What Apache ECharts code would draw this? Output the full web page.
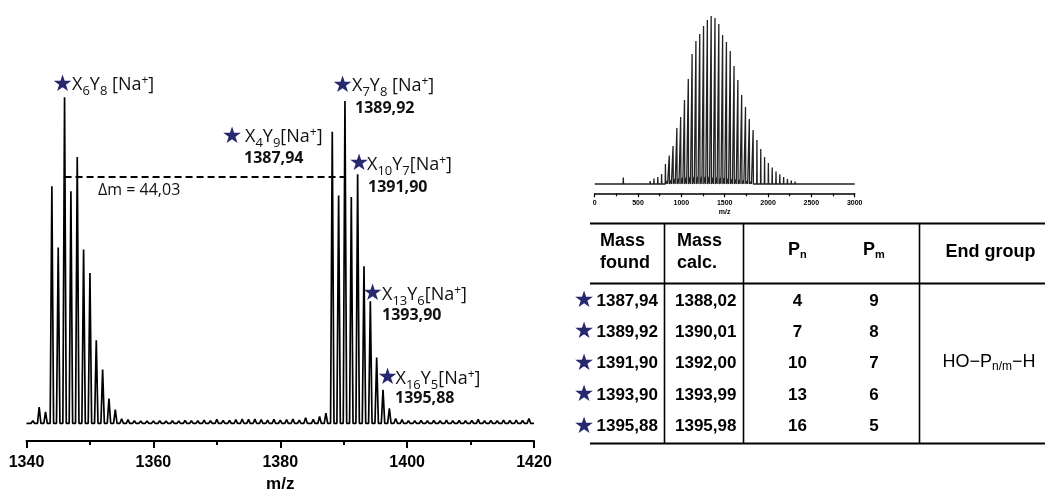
<!DOCTYPE html>
<html>
<head>
<meta charset="utf-8">
<style>
  html, body { margin: 0; padding: 0; background: #fff; }
  #chart { width: 1045px; height: 489px; }
</style>
<script src="https://cdn.jsdelivr.net/npm/echarts@6/dist/echarts.min.js"></script>
</head>
<body>
<div id="chart"></div>
<script>
// 主谱图：m/z 与相对强度 (%)
var mainTicks = [1340, 1360, 1380, 1400, 1420];
var clusterA_mz  = [1342, 1343, 1344, 1345, 1346, 1347, 1348, 1349, 1350, 1351, 1352, 1353, 1354, 1355];
var clusterA_int = [5.0, 3.5, 72.7, 53.9, 100, 71.2, 81.7, 53.3, 46.1, 25.5, 16.5, 7.6, 4.2, 1.4];
var clusterB_mz  = [1386.2, 1387.2, 1388.2, 1389.2, 1390.2, 1391.2, 1392.2, 1393.2, 1394.2, 1395.2, 1396.2, 1397.2, 1398.2];
var clusterB_int = [2.1, 3.1, 89.4, 69.9, 98.9, 69.4, 76.4, 48.2, 37.4, 20.2, 10.3, 4.6, 1.5];
var noise_mz  = [1341, 1356, 1357, 1358, 1359, 1360, 1361, 1362, 1363, 1364, 1365, 1366, 1367, 1368, 1369, 1370,
                 1371, 1372, 1373, 1374, 1375, 1376, 1377, 1378, 1379, 1380, 1381, 1382, 1383, 1384, 1385.2,
                 1399.2, 1400.2, 1401.2, 1402.2, 1403.2, 1404.2, 1405.2, 1406.2, 1407.2, 1408.2, 1409.2, 1410.2,
                 1411.2, 1412.2, 1413.2, 1414.2, 1415.2, 1416.2, 1417.2, 1418.2, 1419.2];
var noise_int = [0.8, 1.1, 0.8, 0.7, 0.7, 0.7, 0.8, 0.7, 0.8, 0.7, 0.9, 0.8, 0.8, 1.0, 0.8, 1.2,
                 0.9, 0.9, 1.1, 1.3, 1.2, 1.3, 1.1, 1.0, 1.2, 1.0, 1.1, 1.3, 1.0, 1.7, 1.2,
                 1.1, 0.8, 0.8, 0.9, 0.8, 0.9, 0.8, 1.0, 0.8, 0.9, 0.8, 0.9,
                 1.2, 0.8, 0.9, 0.8, 1.0, 0.9, 1.0, 0.9, 1.5];
// Δm 虚线：两端 m/z 和高度
var delta_mz = [1346, 1390.2];
var delta_int = 75.6;

// 插图：全谱 0-3000
var insetTicks = [0, 500, 1000, 1500, 2000, 2500, 3000];
var inset_mz  = [508, 552, 596, 640, 684, 728, 772, 816, 860, 904, 948, 992, 1036, 1080, 1124, 1168, 1212, 1256,
                 1300, 1344, 1388, 1432, 1476, 1520, 1564, 1608, 1652, 1696, 1740, 1784, 1828, 1872, 1916, 1960,
                 2004, 2048, 2092, 2136, 2180, 2224, 2268, 2312, 2356, 2400, 2444, 2488, 2532, 2576, 2620, 2664,
                 2708, 2752, 2796];
var inset_int = [0.8, 1, 1.5, 3, 5.5, 7, 10, 20, 28.5, 38, 56, 67, 84, 105, 130, 143, 150, 158,
                 164, 168, 166, 160, 149, 142, 133, 118, 104, 89, 77, 65, 54, 44, 35, 27,
                 21, 16.5, 12.5, 9.7, 7, 5, 3.5, 2.5, 2, 1.5, 1.2, 1, 1, 0.8, 0.8, 0.6,
                 0.5, 0.5, 0.4];
var insetMinor_mz  = [330, 794, 838, 882, 926, 970, 1014, 1058, 1102, 1146, 1190, 1234, 1278, 1322, 1366, 1410, 1454,
                      1498, 1542, 1586, 1630, 1674, 1718, 1762, 1806, 1850, 1894, 1938, 1982, 2026, 2070,
                      2114, 2158, 2202, 2246, 2290];
var insetMinor_int = [6.5, 2, 3, 4, 5, 5.5, 6, 6.5, 7, 7, 7, 7, 7, 7, 6.5, 6.5, 6,
                      6, 5.5, 5, 4.5, 4, 3.5, 3, 2.5, 2, 1.8, 1.5, 1.2, 1, 0.8,
                      0.7, 0.6, 0.5, 0.4, 0.3];

// 表格
var massFound = ['1387,94', '1389,92', '1391,90', '1393,90', '1395,88'];
var massCalc  = ['1388,02', '1390,01', '1392,00', '1393,99', '1395,98'];
var pn = [4, 7, 10, 13, 16];
var pm = [9, 8, 7, 6, 5];

// 峰标注
var peakLabels = [
  'X{sub|6}Y{sub|8} [Na{sup|+}]',
  'X{sub|4}Y{sub|9}[Na{sup|+}]',
  'X{sub|7}Y{sub|8} [Na{sup|+}]',
  'X{sub|10}Y{sub|7}[Na{sup|+}]',
  'X{sub|13}Y{sub|6}[Na{sup|+}]',
  'X{sub|16}Y{sub|5}[Na{sup|+}]'
];
var peakMasses = ['', '1387,94', '1389,92', '1391,90', '1393,90', '1395,88'];

var STAR = '#27286e';
var SANS = 'Liberation Sans, Arial, sans-serif';
var LABEL = 'Open Sans, sans-serif';

// 把峰列表变成尖峰折线点
function spikes(xs, ys, half) {
  var pts = [];
  xs.forEach(function (x, i) {
    pts.push([x, ys[i], half]);
  });
  pts.sort(function (a, b) { return a[0] - b[0]; });
  var out = [];
  pts.forEach(function (p) {
    out.push([p[0] - p[2], 0], [p[0], p[1]], [p[0] + p[2], 0]);
  });
  return out;
}

var mainData = [[mainTicks[0], 0]]
  .concat(spikes(clusterA_mz.concat(clusterB_mz, noise_mz), clusterA_int.concat(clusterB_int, noise_int), 0.27))
  .concat([[mainTicks[mainTicks.length - 1], 0]]);

var insetData = [[insetTicks[0], 0]]
  .concat(spikes(inset_mz.concat(insetMinor_mz), inset_int.concat(insetMinor_int), 3))
  .concat([[insetTicks[insetTicks.length - 1], 0]]);

var chart = echarts.init(document.getElementById('chart'));

// 标注文字
var rich = {
  sub: { fontSize: 13, fontFamily: LABEL, fill: '#111', padding: [13, 0, 0, 0] },
  sup: { fontSize: 12, fontFamily: LABEL, fill: '#111', padding: [0, 0, 8, 0] }
};
var labelPos = [
  { star: [62.5, 85], text: [72, 85], num: null },
  { star: [232, 137], text: [245, 136.5], num: [244, 158] },
  { star: [342.5, 86], text: [352, 86], num: [355, 108] },
  { star: [359, 164.5], text: [367, 165], num: [368, 187] },
  { star: [372.5, 294.5], text: [382, 295], num: [382, 315.5] },
  { star: [387.5, 378.5], text: [395.5, 379], num: [395, 398.5] }
];
var graphics = [];
peakLabels.forEach(function (t, i) {
  var p = labelPos[i];
  graphics.push({
    type: 'text', silent: true,
    style: { x: p.star[0], y: p.star[1], text: '★', fontFamily: 'DejaVu Sans', fontSize: 23,
             fill: STAR, textAlign: 'center', textVerticalAlign: 'middle' }
  });
  graphics.push({
    type: 'text', silent: true,
    style: { x: p.text[0], y: p.text[1], text: t, fontFamily: LABEL, fontSize: 18, fill: '#111',
             textAlign: 'left', textVerticalAlign: 'middle', rich: rich }
  });
  if (p.num) {
    graphics.push({
      type: 'text', silent: true,
      style: { x: p.num[0], y: p.num[1], text: peakMasses[i], fontFamily: LABEL, fontWeight: 'bold',
               fontSize: 16, fill: '#111', textAlign: 'left', textVerticalAlign: 'middle' }
    });
  }
});
graphics.push({
  type: 'text', silent: true,
  style: { x: 98, y: 190, text: 'Δm = 44,03', fontFamily: LABEL, fontSize: 16, fill: '#111',
           textAlign: 'left', textVerticalAlign: 'middle' }
});

// 表格线
var tLeft = 590, tRight = 1045, tTop = 223.5, tHead = 283.5, tBottom = 443.5;
[tTop, tHead, tBottom].forEach(function (y) {
  graphics.push({ type: 'line', silent: true, shape: { x1: tLeft, y1: y, x2: tRight, y2: y },
                  style: { stroke: '#000', lineWidth: 2 } });
});
[664.5, 743.5, 919.5].forEach(function (x) {
  graphics.push({ type: 'line', silent: true, shape: { x1: x, y1: tTop, x2: x, y2: tBottom },
                  style: { stroke: '#000', lineWidth: 1.6 } });
});
function cell(x, y, text, align, size, weight, extra) {
  var s = { x: x, y: y, text: text, fontFamily: SANS, fontSize: size, fontWeight: weight || 'bold',
            fill: '#000', textAlign: align, textVerticalAlign: 'middle' };
  if (extra) s.rich = extra;
  graphics.push({ type: 'text', silent: true, style: s });
}
var tRich = {
  sub: { fontSize: 11, fontFamily: SANS, fontWeight: 'bold', fill: '#000', padding: [10, 0, 0, 0] }
};
cell(600, 241, 'Mass', 'left', 18);
cell(600, 263.5, 'found', 'left', 18);
cell(677, 241, 'Mass', 'left', 18);
cell(677, 263.5, 'calc.', 'left', 18);
cell(788, 250, 'P{sub|n}', 'left', 18, 'bold', tRich);
cell(863, 250, 'P{sub|m}', 'left', 18, 'bold', tRich);
cell(990.5, 252, 'End group', 'center', 18);
var rowTop = 301, rowStep = 31.4;
massFound.forEach(function (m, i) {
  var y = rowTop + i * rowStep;
  graphics.push({
    type: 'text', silent: true,
    style: { x: 584, y: y, text: '★', fontFamily: 'DejaVu Sans', fontSize: 23, fill: STAR,
             textAlign: 'center', textVerticalAlign: 'middle' }
  });
  cell(596.5, y, m, 'left', 17);
  cell(675, y, massCalc[i], 'left', 17);
  cell(797.5, y, String(pn[i]), 'center', 17);
  cell(874, y, String(pm[i]), 'center', 17);
});
cell(989, 362, 'HO−P{sub|n/m}−H', 'center', 18, 'normal', {
  sub: { fontSize: 12, fontFamily: SANS, fill: '#000', padding: [10, 0, 0, 0] }
});

var plain = function (v) { return String(v); };

var option = {
  animation: false,
  backgroundColor: '#fff',
  grid: [
    { left: 26.5, right: 511, top: 97.3, bottom: 48, outerBoundsMode: 'none' },
    { left: 594.7, right: 190.3, top: 16, bottom: 295.7, outerBoundsMode: 'none' }
  ],
  xAxis: [
    {
      gridIndex: 0, type: 'value',
      min: mainTicks[0], max: mainTicks[mainTicks.length - 1], interval: mainTicks[1] - mainTicks[0],
      name: 'm/z', nameLocation: 'middle', nameGap: 32,
      nameTextStyle: { fontFamily: SANS, fontWeight: 'bold', fontSize: 17, color: '#000' },
      axisLine: { onZero: false, lineStyle: { color: '#000', width: 2 } },
      axisTick: { length: 7, lineStyle: { color: '#000', width: 2 } },
      minorTick: { show: true, splitNumber: 2, length: 4, lineStyle: { color: '#000', width: 2 } },
      axisLabel: { margin: 14, fontFamily: SANS, fontWeight: 'bold', fontSize: 16, color: '#000', formatter: plain },
      splitLine: { show: false }
    },
    {
      gridIndex: 1, type: 'value',
      min: insetTicks[0], max: insetTicks[insetTicks.length - 1], interval: insetTicks[1] - insetTicks[0],
      name: 'm/z', nameLocation: 'middle', nameGap: 15,
      nameTextStyle: { fontFamily: SANS, fontWeight: 'bold', fontSize: 7, color: '#000' },
      axisLine: { onZero: false, lineStyle: { color: '#000', width: 1.5 } },
      axisTick: { length: 4, lineStyle: { color: '#000', width: 1.2 } },
      minorTick: { show: true, splitNumber: 2, length: 3, lineStyle: { color: '#000', width: 1.2 } },
      axisLabel: { margin: 6, fontFamily: SANS, fontWeight: 'bold', fontSize: 7, color: '#000', formatter: plain },
      splitLine: { show: false }
    }
  ],
  yAxis: [
    { gridIndex: 0, type: 'value', min: -5.43, max: 100, show: false },
    { gridIndex: 1, type: 'value', min: -9.3, max: 168, show: false }
  ],
  series: [
    {
      type: 'line', xAxisIndex: 0, yAxisIndex: 0, data: mainData,
      showSymbol: false, symbol: 'none', clip: false,
      lineStyle: { color: '#000', width: 1.7 },
      markLine: {
        silent: true, symbol: 'none', label: { show: false },
        lineStyle: { color: '#000', width: 2, type: [7, 4] },
        data: [[{ coord: [delta_mz[0], delta_int] }, { coord: [delta_mz[1], delta_int] }]]
      }
    },
    {
      type: 'line', xAxisIndex: 1, yAxisIndex: 1, data: insetData,
      showSymbol: false, symbol: 'none',
      lineStyle: { color: '#222', width: 1.3 }
    }
  ],
  graphic: graphics
};

chart.setOption(option);
</script>
</body>
</html>
